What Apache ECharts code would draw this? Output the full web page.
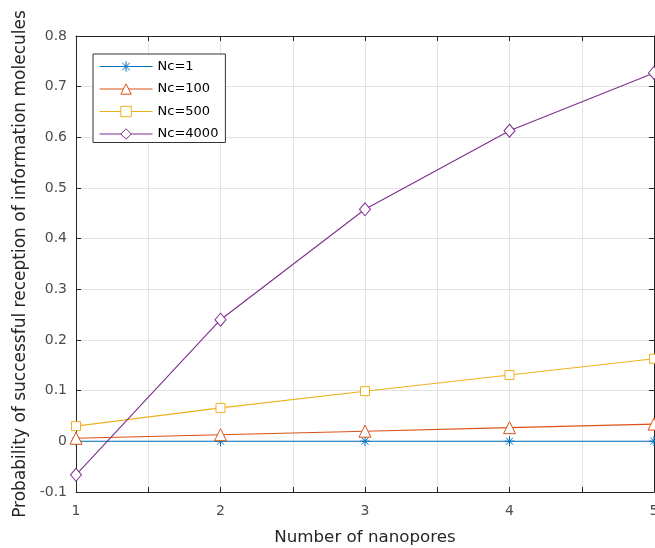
<!DOCTYPE html>
<html>
<head>
<meta charset="utf-8">
<script src="https://cdn.jsdelivr.net/npm/echarts@6/dist/echarts.min.js"></script>
<style>
  html, body { margin: 0; padding: 0; background: #fff; overflow: hidden; }
  #chart { width: 655px; height: 548px; }
</style>
</head>
<body>
<div id="chart"></div>
<script>
// Number of nanopores
const nanopores = [1, 2, 3, 4, 5];
// Reception probability for each Nc
const nc1 = [0.0003, 0.0003, 0.0003, 0.0003, 0.0003];
const nc100 = [0.006, 0.013, 0.020, 0.027, 0.034];
const nc500 = [0.030, 0.066, 0.099, 0.131, 0.163];
const nc4000 = [-0.066, 0.240, 0.458, 0.613, 0.727];
const seriesNames = ['Nc=1', 'Nc=100', 'Nc=500', 'Nc=4000'];
const colors = ['#0072BD', '#D95319', '#EDB120', '#7E2F8E'];

const asterisk = 'path://M5,0L5,10M0,5L10,5M1.5,1.5L8.5,8.5M8.5,1.5L1.5,8.5';

function pairs(ys) { return nanopores.map((x, i) => [x, ys[i]]); }

function makeSeries(name, ys, color, symbol, size) {
  return {
    name: name,
    type: 'line',
    data: pairs(ys),
    symbol: symbol,
    symbolSize: size,
    showAllSymbol: true,
    color: color,
    lineStyle: { color: color, width: 1.1 },
    itemStyle: { color: '#fff', borderColor: color, borderWidth: 1 },
    emphasis: { disabled: true },
    z: 3
  };
}

const fontFam = '"DejaVu Sans", "Liberation Sans", Arial, sans-serif';
const axisColor = '#262626';
const labelColor = '#4d4d4d';

function frameAxis(extra) {
  return Object.assign({
    type: 'value',
    axisLine: { show: true, onZero: false, lineStyle: { color: axisColor, width: 1 } },
    axisTick: { show: true, inside: true, length: 5, lineStyle: { color: axisColor } },
    axisLabel: { show: false },
    splitLine: { show: false }
  }, extra);
}

const chart = echarts.init(document.getElementById('chart'), null, { renderer: 'canvas' });
chart.setOption({
  animation: false,
  backgroundColor: '#fff',
  textStyle: { fontFamily: fontFam },
  grid: { left: 76, right: 1, top: 36, bottom: 56, containLabel: false, outerBoundsMode: 'none' },
  legend: {
    orient: 'vertical',
    left: 93,
    top: 54,
    data: seriesNames,
    itemWidth: 53,
    itemHeight: 13,
    itemGap: 5.5,
    padding: [4, 7, 0, 6],
    backgroundColor: '#fff',
    borderColor: '#333',
    borderWidth: 1,
    borderRadius: 0,
    itemStyle: { color: '#fff', borderColor: 'inherit', borderWidth: 1 },
    lineStyle: { width: 1.1 },
    textStyle: { fontSize: 13, color: '#000', fontFamily: fontFam, lineHeight: 17 },
    selectedMode: false
  },
  xAxis: [frameAxis({
    position: 'bottom',
    min: 1, max: 5, interval: 0.5,
    name: 'Number of nanopores',
    nameLocation: 'middle',
    nameGap: 37,
    nameTextStyle: { fontSize: 16.7, color: axisColor, fontFamily: fontFam },
    axisLabel: {
      show: true, fontSize: 14, color: labelColor, margin: 12, fontFamily: fontFam,
      formatter: v => (Math.abs(v - Math.round(v)) < 1e-9 ? String(Math.round(v)) : '')
    },
    splitLine: { show: true, lineStyle: { color: '#e3e3e3', width: 1 } }
  }), frameAxis({
    position: 'top',
    min: 1, max: 5, interval: 0.5
  })],
  yAxis: [frameAxis({
    position: 'left',
    min: -0.1, max: 0.8, interval: 0.1,
    name: 'Probability of successful reception of information molecules',
    nameLocation: 'middle',
    nameGap: 47,
    nameTextStyle: { fontSize: 17, color: axisColor, fontFamily: fontFam },
    axisLabel: {
      show: true, fontSize: 14, color: labelColor, margin: 9, fontFamily: fontFam,
      formatter: v => String(Math.round(v * 10) / 10)
    },
    splitLine: { show: true, lineStyle: { color: '#e3e3e3', width: 1 } }
  }), frameAxis({
    position: 'right',
    min: -0.1, max: 0.8, interval: 0.1
  })],
  series: [
    makeSeries(seriesNames[0], nc1, colors[0], asterisk, 10),
    makeSeries(seriesNames[1], nc100, colors[1], 'triangle', 12),
    makeSeries(seriesNames[2], nc500, colors[2], 'rect', 9),
    makeSeries(seriesNames[3], nc4000, colors[3], 'diamond', [11, 13])
  ]
});
</script>
</body>
</html>
